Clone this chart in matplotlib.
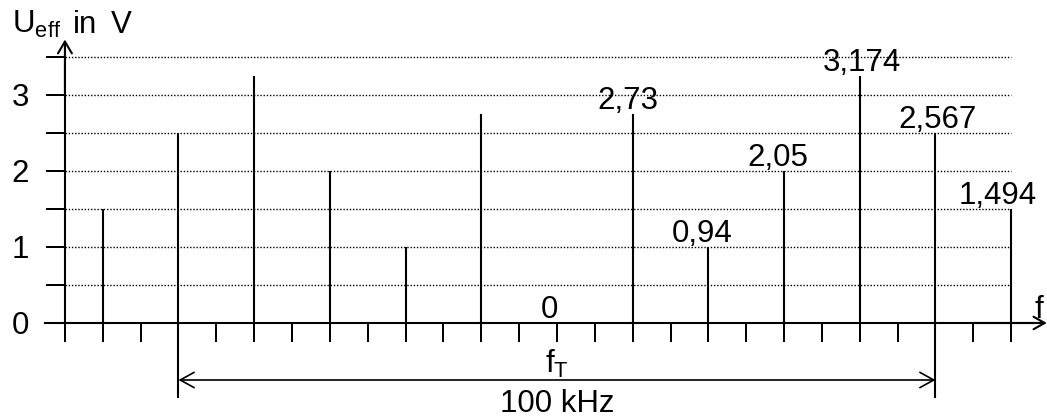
import numpy as np
import matplotlib
matplotlib.use('Agg')
import matplotlib.pyplot as plt

plt.rcParams['font.family'] = ['Liberation Sans', 'DejaVu Sans']
plt.rcParams['mathtext.default'] = 'regular'

# spectral lines, frequency relative to f_T in kHz
freq = [-60, -50, -40, -30, -20, -10, 0, 10, 20, 30, 40, 50, 60]
u_eff = [1.5, 2.5, 3.25, 2.0, 1.0, 2.75, 0, 2.75, 1.0, 2.0, 3.25, 2.5, 1.5]

# value labels on the right half
label_freq = [0, 10, 20, 30, 40, 50, 60]
label_val = [0, 2.75, 1.0, 2.0, 3.25, 2.5, 1.5]
label_text = ['0', '2,73', '0,94', '2,05', '3,174', '2,567', '1,494']
label_dx = [-7.5, -5, -6, -6, 2, 2, -14]  # pixel nudges

fs = 22.5

fig = plt.figure(figsize=(10.47, 4.17), dpi=100)
ax = fig.add_axes([0, 0, 1, 1])
ax.set_xlim(-73.58, 64.73)
ax.set_ylim(-1.237, 4.25)
ax.patch.set_alpha(0)

for s in ['top', 'right']:
    ax.spines[s].set_visible(False)
ax.spines['left'].set_position(('data', -65))
ax.spines['left'].set_bounds(0, 3.6)
ax.spines['bottom'].set_position(('data', 0))
ax.spines['bottom'].set_bounds(-67.6, 64.0)
for s in ['left', 'bottom']:
    ax.spines[s].set_linewidth(1.5)

ax.set_xticks(np.arange(-65, 61, 5))
ax.set_xticklabels([])
ax.tick_params(axis='x', direction='out', length=13.7, width=1.44)
ax.set_yticks([0, 1, 2, 3])
ax.set_yticks(np.arange(0.5, 3.6, 1), minor=True)
ax.tick_params(axis='y', which='both', direction='out', length=13.7, width=1.44,
               labelsize=fs, pad=12)

# dotted grid
ax.hlines(np.arange(0.5, 3.6, 0.5), -65, 60, colors='black', lw=1.0,
          linestyles=(0, (1.0, 1.3)), zorder=1)

# axis arrow heads
ax.annotate('', xy=(-65, 3.73), xytext=(-65, 3.0),
            arrowprops=dict(arrowstyle='->,head_length=0.85,head_width=0.5', lw=1.5,
                            shrinkA=0, shrinkB=0, mutation_scale=10))
ax.annotate('', xy=(64.7, 0), xytext=(55, 0),
            arrowprops=dict(arrowstyle='->,head_length=0.8,head_width=0.45', lw=1.5,
                            shrinkA=0, shrinkB=0, mutation_scale=10))

# stems
ax.vlines(freq, 0, u_eff, colors='black', lw=1.5, zorder=3)

for f, v, t, dx in zip(label_freq, label_val, label_text, label_dx):
    ax.annotate(t, xy=(f, v), xytext=(dx * 0.72, 3.5), textcoords='offset points',
                ha='center', va='baseline', fontsize=fs)

# bandwidth marker
ax.vlines([-50, 50], -0.987, 0, colors='black', lw=1.5)
ax.annotate('', xy=(-50, -0.75), xytext=(50, -0.75),
            arrowprops=dict(arrowstyle='<->,head_length=1.0,head_width=0.55', lw=1.2,
                            shrinkA=0, shrinkB=0, mutation_scale=10))
ax.text(0, -0.658, r'f$_T$', ha='center', va='baseline', fontsize=fs)
ax.text(0, -1.171, '100 kHz', ha='center', va='baseline', fontsize=fs)

ax.text(63.6, 0.066, 'f', ha='center', va='baseline', fontsize=fs)

# axis title, pieces placed like the original
ax.text(-72.0, 3.816, r'U$_{eff}$', ha='left', va='baseline', fontsize=fs)
ax.text(-63.9, 3.816, 'in', ha='left', va='baseline', fontsize=fs)
ax.text(-59.0, 3.816, 'V', ha='left', va='baseline', fontsize=fs)

fig.savefig('out.png', dpi=100)
